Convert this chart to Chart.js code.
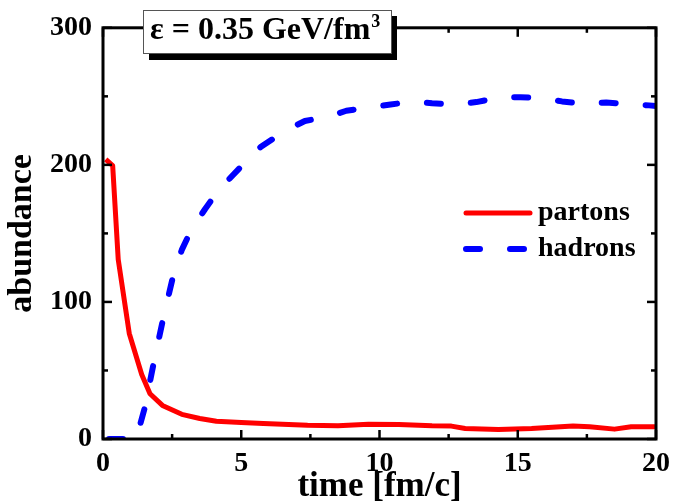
<!DOCTYPE html>
<html>
<head>
<meta charset="utf-8">
<script src="https://cdn.jsdelivr.net/npm/chart.js@4.4.0/dist/chart.umd.min.js"></script>
<style>
  html, body { margin: 0; padding: 0; background: #fff; }
  canvas { display: block; }
</style>
</head>
<body>
<canvas id="chart" width="678" height="504"></canvas>
<script>
// parton / hadron abundance vs. time
const partonTimes = [0.1, 0.35, 0.55, 0.95, 1.4, 1.7, 2.15, 2.85, 3.5, 4.1, 5.0, 5.8, 7.4, 8.5, 9.6, 10.7, 11.9, 12.6, 13.1, 14.3, 15.5, 17.0, 17.6, 18.5, 19.1, 20];
const partonCounts = [204, 199.5, 131, 77, 47, 33, 24.5, 18, 15, 13, 12, 11.3, 10, 9.6, 10.8, 10.6, 9.6, 9.4, 7.7, 7, 7.7, 9.4, 8.9, 7.2, 8.9, 8.9];

const hadronTimes = [0, 1.2, 1.5, 1.9, 2.2, 2.55, 2.85, 3.2, 3.7, 4.2, 5.1, 5.7, 6.6, 7.3, 8.2, 8.8, 9.7, 10.4, 11.2, 11.9, 12.8, 13.5, 14.4, 15.1, 15.9, 16.6, 17.5, 18.2, 19.0, 19.75, 20];
const hadronCounts = [0, 0, 22, 62, 90, 120, 138, 153, 168, 182, 201, 213, 225, 232, 235.5, 239.5, 242, 244, 246.3, 245, 244, 245.8, 249.4, 249.4, 248.7, 246.3, 244.4, 245.5, 244.4, 243.4, 243];

const seriesLabels = ['partons', 'hadrons'];
const xTicks = [0, 5, 10, 15, 20];
const xMinorTicks = [2.5, 7.5, 12.5, 17.5];
const yTicks = [0, 100, 200, 300];
const yMinorTicks = [50, 150, 250];
const energyText = 'ε = 0.35 GeV/fm';
const energyPower = '3';

const SERIF = '"Liberation Serif", "Times New Roman", serif';

function toPoints(xs, ys) {
  return xs.map((x, i) => ({ x: x, y: ys[i] }));
}

// frame with inward major/minor ticks on all four sides
const framePlugin = {
  id: 'frame',
  afterDatasetsDraw(chart) {
    const { ctx, chartArea: a, scales: { x, y } } = chart;
    ctx.save();
    ctx.strokeStyle = '#000';
    ctx.lineWidth = 3;
    ctx.strokeRect(a.left, a.top, a.right - a.left, a.bottom - a.top);

    ctx.lineWidth = 2.5;
    const seg = (x1, y1, x2, y2) => {
      ctx.beginPath();
      ctx.moveTo(x1, y1);
      ctx.lineTo(x2, y2);
      ctx.stroke();
    };
    const xMark = (v, len) => {
      const px = x.getPixelForValue(v);
      seg(px, a.bottom, px, a.bottom - len);
      seg(px, a.top, px, a.top + len);
    };
    const yMark = (v, len) => {
      const py = y.getPixelForValue(v);
      seg(a.left, py, a.left + len, py);
      seg(a.right, py, a.right - len, py);
    };
    xTicks.forEach(v => xMark(v, 9));
    xMinorTicks.forEach(v => xMark(v, 5));
    yTicks.forEach(v => yMark(v, 9));
    yMinorTicks.forEach(v => yMark(v, 5));
    ctx.restore();
  }
};

// legend box inside the plot, and the energy density label
const notesPlugin = {
  id: 'notes',
  afterDraw(chart) {
    const { ctx } = chart;
    ctx.save();

    // legend
    chart.data.datasets.forEach((ds, i) => {
      const ly = 213 + i * 36;
      ctx.strokeStyle = ds.borderColor;
      ctx.lineWidth = ds.borderWidth;
      ctx.lineCap = 'round';
      ctx.setLineDash(ds.borderDash || []);
      ctx.beginPath();
      ctx.moveTo(466, ly);
      ctx.lineTo(530, ly);
      ctx.stroke();
      ctx.setLineDash([]);
      ctx.fillStyle = '#000';
      ctx.font = 'bold 28px ' + SERIF;
      ctx.textBaseline = 'middle';
      ctx.textAlign = 'left';
      ctx.fillText(ds.label, 538, ly);
    });

    // energy density box with drop shadow
    const bx = 143, by = 10, bw = 248, bh = 43;
    ctx.fillStyle = '#000';
    ctx.fillRect(bx + 6, by + 6, bw, bh + 1);
    ctx.fillStyle = '#fff';
    ctx.fillRect(bx, by, bw, bh);
    ctx.strokeStyle = '#555';
    ctx.lineWidth = 1;
    ctx.strokeRect(bx + 0.5, by + 0.5, bw, bh);

    ctx.fillStyle = '#000';
    ctx.textBaseline = 'alphabetic';
    ctx.textAlign = 'left';
    ctx.font = 'bold 32px ' + SERIF;
    ctx.fillText(energyText, 150, 39);
    const w = ctx.measureText(energyText).width;
    ctx.font = 'bold 18px ' + SERIF;
    ctx.fillText(energyPower, 150 + w + 1, 27);
    ctx.restore();
  }
};

const tickFont = { family: SERIF, weight: 'bold', size: 28 };
const titleFont = { family: SERIF, weight: 'bold', size: 35, lineHeight: 1 };

const ctx = document.getElementById('chart').getContext('2d');
const chart = new Chart(ctx, {
  type: 'line',
  data: {
    datasets: [
      {
        label: seriesLabels[0],
        data: toPoints(partonTimes, partonCounts),
        borderColor: '#ff0000',
        borderWidth: 5,
        borderJoinStyle: 'round',
        pointRadius: 0,
        tension: 0
      },
      {
        label: seriesLabels[1],
        data: toPoints(hadronTimes, hadronCounts),
        borderColor: '#0000ff',
        borderWidth: 6,
        borderDash: [14, 30],
        borderDashOffset: 38,
        borderCapStyle: 'round',
        borderJoinStyle: 'round',
        pointRadius: 0,
        tension: 0
      }
    ]
  },
  options: {
    responsive: false,
    animation: false,
    devicePixelRatio: 1,
    layout: { padding: { left: 0, top: 22, right: 16, bottom: 0 } },
    plugins: {
      legend: { display: false },
      tooltip: { enabled: false }
    },
    scales: {
      x: {
        type: 'linear',
        min: 0,
        max: 20,
        grid: { display: false, drawTicks: false },
        border: { display: false },
        afterBuildTicks: s => { s.ticks = xTicks.map(v => ({ value: v })); },
        afterFit: s => { s.height = 65; },
        ticks: { color: '#000', font: tickFont, padding: 8, maxRotation: 0 },
        title: { display: true, text: 'time [fm/c]', color: '#000', font: titleFont, padding: { top: 0, bottom: 0 } }
      },
      y: {
        type: 'linear',
        min: 0,
        max: 300,
        grid: { display: false, drawTicks: false },
        border: { display: false },
        afterBuildTicks: s => { s.ticks = yTicks.map(v => ({ value: v })); },
        afterFit: s => { s.width = 103; },
        ticks: { color: '#000', font: tickFont, padding: 11 },
        title: { display: true, text: 'abundance', color: '#000', font: { family: SERIF, weight: 'bold', size: 34, lineHeight: 1 }, padding: { top: 5, bottom: 0 } }
      }
    }
  },
  plugins: [framePlugin, notesPlugin]
});
</script>
</body>
</html>
